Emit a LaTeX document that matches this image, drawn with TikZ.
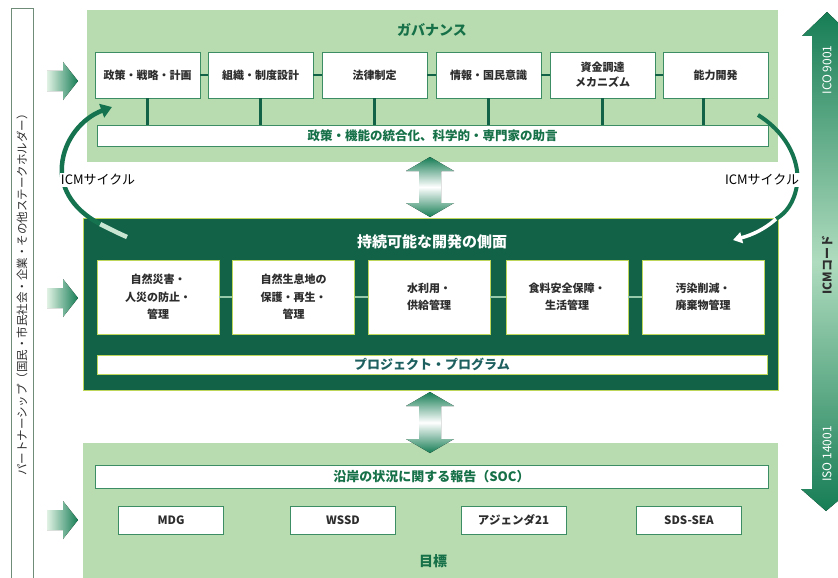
\documentclass[tikz,border=0pt]{standalone}
\usepackage{fontspec}
\setmainfont{Noto Sans CJK JP}
\usetikzlibrary{arrows.meta}
\definecolor{dkgreen}{RGB}{18,98,72}
\definecolor{lgreen}{RGB}{184,220,176}
\definecolor{boxline}{RGB}{60,140,100}
\definecolor{titleg}{RGB}{22,112,72}
\definecolor{ylw}{RGB}{190,215,90}
\definecolor{txtc}{RGB}{45,45,45}
\definecolor{arcg}{RGB}{22,115,80}
\definecolor{arrdark}{RGB}{22,125,85}
\definecolor{arrlight}{RGB}{225,242,228}
\definecolor{pbtxt}{RGB}{30,95,95}
\tikzset{
  tbox/.style={draw=boxline, fill=white, line width=0.8pt, minimum width=105pt, minimum height=46pt,
    inner sep=1pt, align=center, font=\fontsize{11}{15}\selectfont\bfseries, text=txtc},
  mbox/.style={fill=white, draw=ylw, line width=0.4pt, minimum width=122pt, minimum height=74pt,
    inner sep=1pt, align=center, font=\fontsize{11}{17.5}\selectfont\bfseries, text=txtc},
  bbox/.style={draw=boxline, fill=white, line width=0.8pt, minimum width=105pt, minimum height=28pt,
    inner sep=1pt, font=\fontsize{11.5}{14}\selectfont\bfseries, text=txtc},
  barbox/.style={draw=boxline, fill=white, line width=0.8pt, inner sep=0pt,
    font=\fontsize{12.5}{14}\selectfont\bfseries, text=titleg},
  conn/.style={draw=dkgreen, line width=2.6pt},
  mconn/.style={draw={rgb,255:red,150;green,200;blue,170}, line width=1.6pt},
  arcline/.style={draw=arcg, line width=4.5pt},
  icmlabel/.style={fill=white, inner sep=1pt, font=\fontsize{13}{15}\selectfont, text=black},
  sidearrow/.style={left color=arrlight, right color=arrdark, draw=none},
  dblarrow/.style={top color=arrdark, bottom color=arrdark, middle color=white, draw=none},
  stdtext/.style={rotate=90, font=\fontsize{12}{14}\selectfont},
}
\begin{document}
\begin{tikzpicture}[x=1pt,y=-1pt]
\clip (0,0) rectangle (838,578);
\fill[white] (0,0) rectangle (838,578);

% partnership frame
\node[draw={rgb,255:red,110;green,140;blue,120}, line width=0.6pt, minimum width=22pt, minimum height=580pt,
  inner sep=0pt, anchor=north west] (part) at (11,8) {};
\node[rotate=90, font=\fontsize{11.5}{14}\selectfont, text=txtc] (parttxt) at (22,292)
  {パートナーシップ（国民・市民社会・企業・その他ステークホルダー）};

% governance area
\node[fill=lgreen, minimum width=691pt, minimum height=152pt, inner sep=0pt, anchor=north west] (gov) at (87,10) {};
\node[font=\fontsize{14}{16}\selectfont\bfseries, text=titleg] (govt) at (432,30) {ガバナンス};

\node[barbox, minimum width=671pt, minimum height=21pt] (gbar) at (432.5,135.5) {政策・機能の統合化、科学的・専門家の助言};

\node[tbox] (g1) at (147.5,75) {政策・戦略・計画};
\node[tbox] (g2) at (260.5,75) {組織・制度設計};
\node[tbox] (g3) at (374.5,75) {法律制定};
\node[tbox] (g4) at (488.5,75) {情報・国民意識};
\node[tbox] (g5) at (602.5,75) {資金調達\\メカニズム};
\node[tbox] (g6) at (715.5,75) {能力開発};

\draw[conn] (g1.east) -- (g2.west);
\draw[conn] (g2.east) -- (g3.west);
\draw[conn] (g3.east) -- (g4.west);
\draw[conn] (g4.east) -- (g5.west);
\draw[conn] (g5.east) -- (g6.west);
\foreach \g in {g1,g2,g3,g4,g5}{
  \draw[conn] (\g.south) -- (\g.south |- gbar.north);
}
\draw[conn] ([xshift=-12pt]g6.south) -- ([xshift=-12pt]g6.south |- gbar.north);

% sustainable development area
\node[fill=dkgreen, draw=ylw, line width=0.8pt, minimum width=695pt, minimum height=172pt, inner sep=0pt,
  anchor=north west] (sd) at (83,218) {};
\node[font=\fontsize{15}{17}\selectfont\bfseries, text=white] (sdt) at (432,242) {持続可能な開発の側面};

\node[mbox] (m1) at (158,297) {自然災害・\\人災の防止・\\管理};
\node[mbox] (m2) at (293.5,297) {自然生息地の\\保護・再生・\\管理};
\node[mbox] (m3) at (429,297) {水利用・\\供給管理};
\node[mbox] (m4) at (567,297) {食料安全保障・\\生活管理};
\node[mbox] (m5) at (703,297) {汚染削減・\\廃棄物管理};
\draw[mconn] (m1.east) -- (m2.west);
\draw[mconn] (m2.east) -- (m3.west);
\draw[mconn] (m3.east) -- (m4.west);
\draw[mconn] (m4.east) -- (m5.west);

\node[fill=white, draw=ylw, line width=0.4pt, minimum width=670pt, minimum height=19pt, inner sep=0pt,
  font=\fontsize{13}{15}\selectfont\bfseries, text=pbtxt] (pbar) at (432,364.5) {プロジェクト・プログラム};

% goals area
\node[fill=lgreen, minimum width=695pt, minimum height=140pt, inner sep=0pt, anchor=north west] (goal) at (83,443) {};
\node[barbox, minimum width=673pt, minimum height=23pt, font=\fontsize{13}{15}\selectfont\bfseries] (soc) at (431.5,476.5)
  {沿岸の状況に関する報告（SOC）};
\node[bbox] (b1) at (171,520) {MDG};
\node[bbox] (b2) at (343,520) {WSSD};
\node[bbox] (b3) at (513.5,520) {アジェンダ21};
\node[bbox] (b4) at (689,520) {SDS-SEA};
\node[font=\fontsize{14}{16}\selectfont\bfseries, text=titleg] (goalt) at (433,561) {目標};

% ICM cycle arcs
\coordinate (la0) at (127,237);
\coordinate (la1) at (100,224);
\coordinate (la2) at (112,107);
\draw[draw={rgb,255:red,200;green,230;blue,210}, line width=4.5pt] (la0) .. controls (118,233) .. (la1);
\draw[arcline, -{Triangle[length=11pt,width=14pt]}] (la1) .. controls (70,208) and (60,185) .. (62,165)
   .. controls (64,140) and (82,118) .. (la2);
\node[icmlabel] (icml) at (98,180) {ICMサイクル};

\coordinate (ra0) at (758,115);
\coordinate (ra1) at (776,219);
\coordinate (ra2) at (733,240);
\draw[arcline, line width=4pt] (ra0) .. controls (790,135) and (800,165) .. (797,185) .. controls (794,203) and (786,213) .. (ra1);
\draw[draw=white, line width=3.5pt, -{Triangle[length=9pt,width=11pt]}] (ra1) .. controls (765,229) and (752,235) .. (ra2);
\node[icmlabel] (icmr) at (762,180) {ICMサイクル};

% central double arrows
\fill[dblarrow] (430,157) -- (454,171) -- (441,171) -- (441,203) -- (454,203) -- (430,217)
  -- (406,203) -- (419,203) -- (419,171) -- (406,171) -- cycle;
\fill[dblarrow] (430,392) -- (454,406) -- (441,406) -- (441,439) -- (454,439) -- (430,453)
  -- (406,439) -- (419,439) -- (419,406) -- (406,406) -- cycle;

% left side arrows
\foreach \yy in {81,298,520}{
  \fill[sidearrow] (47,\yy-10) -- (63,\yy-10) -- (63,\yy-19) -- (78,\yy) -- (63,\yy+19) -- (63,\yy+10) -- (47,\yy+10) -- cycle;
}

% right standards bar
\fill[top color=arrdark, bottom color=arrdark, middle color={rgb,255:red,175;green,220;blue,190}, draw=none]
  (827,12) -- (852,36) -- (842,36) -- (842,489) -- (852,489) -- (826,511) -- (801,489) -- (812,489)
  -- (812,36) -- (802,36) -- cycle;
\node[stdtext, text=white] (iso9) at (827,70) {ICO 9001};
\node[stdtext, font=\fontsize{12}{14}\selectfont\bfseries, text=txtc] (icmc) at (827,265) {ICMコード};
\node[stdtext, text=white] (iso14) at (827,454) {ISO 14001};
\end{tikzpicture}
\end{document}
